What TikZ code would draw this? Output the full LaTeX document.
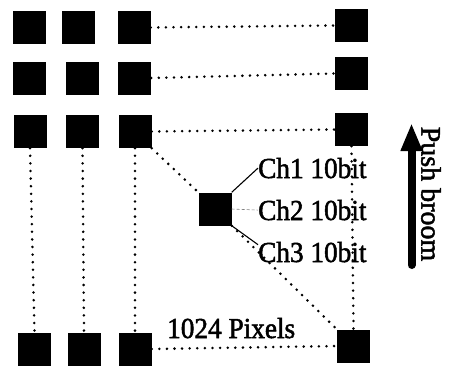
\documentclass[tikz,border=0pt]{standalone}
\usepackage{fontspec}
\setmainfont{Liberation Serif}
\newfontfamily\lblfont{Liberation Serif}[FakeBold=1.8]
\usetikzlibrary{arrows.meta}
\begin{document}
\begin{tikzpicture}[x=1pt,y=-1pt,
  px/.style={fill=black,draw=none,minimum size=33pt,inner sep=0pt},
  dots/.style={line width=2.8pt,line cap=round,dash pattern=on 0pt off 7.6pt},
  lbl/.style={font=\lblfont\fontsize{29}{32}\selectfont,xscale=0.94,inner sep=0pt,anchor=base west},
  tie/.style={line width=1.1pt}]
\useasboundingbox (0,0) rectangle (452,373);
% row 1
\node[px] (a1) at (29,27.5) {};
\node[px] (a2) at (78.5,27.5) {};
\node[px] (a3) at (134,27.5) {};
\node[px] (a4) at (351,25.5) {};
% row 2
\node[px] (b1) at (29,78) {};
\node[px] (b2) at (82,78) {};
\node[px] (b3) at (134.5,78) {};
\node[px] (b4) at (351,73.5) {};
% row 3
\node[px] (c1) at (30,131.5) {};
\node[px] (c2) at (82.5,131.5) {};
\node[px] (c3) at (135,131.5) {};
\node[px] (c4) at (351.5,129.5) {};
% bottom row
\node[px] (d1) at (34.5,349) {};
\node[px] (d2) at (84,349) {};
\node[px] (d3) at (135,349) {};
\node[px] (d4) at (353.5,346) {};
% middle pixel
\node[px] (m) at (215,209) {};
% dotted connectors
\draw[dots] (a3.east) -- (a4.west);
\draw[dots] (b3.east) -- (b4.west);
\draw[dots] (c3.east) -- (c4.west);
\draw[dots] (d3.east) -- (d4.west);
\draw[dots] (c1.south) -- (d1.north);
\draw[dots] (c2.south) -- (d2.north);
\draw[dots] (c3.south) -- (d3.north);
\draw[dots] (c4.south) -- (d4.north);
\draw[dots] (c3.south east) -- (m.north west);
\draw[dots] (m.south east) -- (d4.north west);
% labels
\node[lbl] (ch1) at (258,178) {Ch1 10bit};
\node[lbl] (ch2) at (258,220) {Ch2 10bit};
\node[lbl] (ch3) at (258,262) {Ch3 10bit};
\node[lbl] (pix) at (167,338) {1024 Pixels};
\draw[tie] (m.north east) -- (ch1.west);
\draw[gray,line width=0.6pt,dash pattern=on 3pt off 2pt] (m.east) -- (ch2.west);
\draw[tie] (m.south east) -- ([yshift=-3pt]ch3.north west);
% push broom arrow
\coordinate (ab) at (411.5,265);
\coordinate (at) at (411.5,123);
\draw[line width=8pt,line cap=round,-{Triangle[width=20pt,length=28pt]}] (ab) -- (at);
\node[font=\lblfont\fontsize{28}{30}\selectfont,rotate=-90,inner sep=0pt] (pb) at (431,194) {Push broom};
\end{tikzpicture}
\end{document}
